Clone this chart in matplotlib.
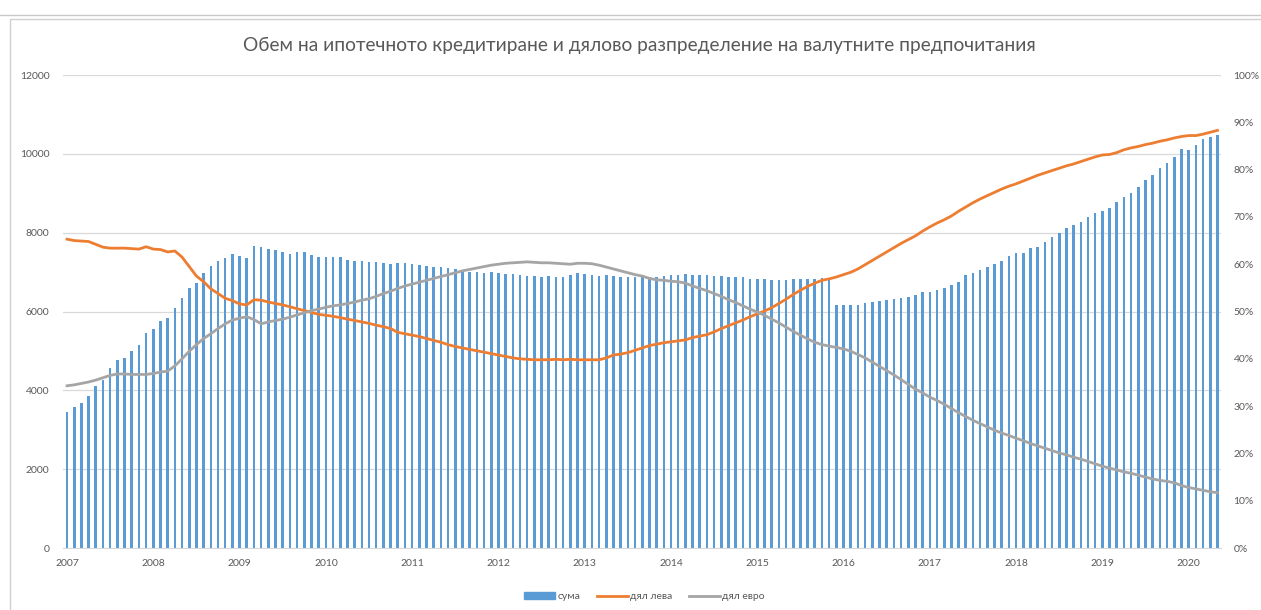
import numpy as np
import matplotlib as mpl
import matplotlib.pyplot as plt
from matplotlib.patches import Patch, Rectangle
from matplotlib.lines import Line2D

mpl.use("Agg")
plt.rcParams['font.family'] = ['Lato', 'DejaVu Sans']

# monthly data, Jan 2007 - May 2020
years = [str(y) for y in range(2007, 2021)]

suma = [3459, 3587, 3690, 3866, 4120, 4264, 4577, 4772, 4814, 5008, 5152, 5465,
        5558, 5770, 5846, 6100, 6337, 6590, 6718, 6971, 7165, 7284, 7368, 7454,
        7411, 7368, 7665, 7631, 7597, 7563, 7521, 7454, 7521, 7521, 7437, 7393,
        7375, 7375, 7375, 7306, 7281, 7281, 7263, 7263, 7221, 7204, 7238, 7238,
        7204, 7179, 7154, 7137, 7120, 7094, 7069, 7035, 7010, 6993, 6984, 6993,
        6968, 6951, 6942, 6925, 6908, 6900, 6882, 6900, 6882, 6882, 6925, 6984,
        6951, 6925, 6900, 6917, 6900, 6882, 6882, 6866, 6882, 6866, 6882, 6900,
        6925, 6917, 6942, 6925, 6925, 6917, 6900, 6900, 6882, 6866, 6866, 6830,
        6815, 6815, 6800, 6800, 6800, 6815, 6815, 6830, 6830, 6845, 6845, 6164,
        6164, 6164, 6164, 6207, 6249, 6266, 6291, 6325, 6333, 6376, 6418, 6485,
        6485, 6545, 6588, 6672, 6756, 6925, 6968, 7052, 7120, 7204, 7288, 7407,
        7475, 7491, 7603, 7644, 7771, 7897, 7999, 8110, 8194, 8279, 8404, 8506,
        8549, 8633, 8785, 8912, 8997, 9166, 9335, 9462, 9631, 9775, 9910, 10113,
        10096, 10223, 10367, 10434, 10477]

dyal_leva = [65.3, 65.0, 64.9, 64.8, 64.2, 63.6, 63.4, 63.4, 63.4, 63.3, 63.2, 63.7,
             63.2, 63.1, 62.6, 62.8, 61.5, 59.5, 57.5, 56.3, 54.8, 53.8, 52.8, 52.3,
             51.6, 51.4, 52.5, 52.4, 52.0, 51.7, 51.4, 51.0, 50.6, 50.2, 49.8, 49.4,
             49.2, 49.0, 48.7, 48.4, 48.1, 47.8, 47.5, 47.1, 46.8, 46.4, 45.6, 45.3,
             45.0, 44.7, 44.3, 43.9, 43.5, 43.0, 42.6, 42.3, 42.0, 41.7, 41.4, 41.1,
             40.8, 40.5, 40.2, 40.0, 39.9, 39.8, 39.8, 39.8, 39.9, 39.8, 39.9, 39.8,
             39.8, 39.8, 39.8, 40.2, 40.8, 41.0, 41.3, 41.8, 42.3, 42.8, 43.1, 43.4,
             43.6, 43.8, 44.0, 44.5, 44.8, 45.1, 45.7, 46.4, 47.0, 47.6, 48.2, 48.9,
             49.5, 50.1, 50.8, 51.7, 52.6, 53.6, 54.5, 55.3, 56.0, 56.6, 56.9, 57.3,
             57.8, 58.3, 59.0, 59.9, 60.8, 61.7, 62.6, 63.5, 64.4, 65.2, 66.0, 67.0,
             67.9, 68.7, 69.4, 70.2, 71.2, 72.1, 73.0, 73.8, 74.5, 75.2, 75.9, 76.5,
             77.0, 77.6, 78.2, 78.8, 79.3, 79.8, 80.3, 80.8, 81.2, 81.7, 82.2, 82.7,
             83.1, 83.2, 83.6, 84.2, 84.6, 84.9, 85.3, 85.6, 86.0, 86.3, 86.7, 87.0,
             87.2, 87.2, 87.5, 87.9, 88.3]

dyal_evro = [34.3, 34.5, 34.8, 35.1, 35.5, 36.0, 36.5, 36.8, 36.8, 36.7, 36.7, 36.7,
             36.9, 37.2, 37.4, 38.5, 40.0, 41.6, 43.0, 44.3, 45.3, 46.4, 47.4, 48.2,
             48.6, 48.9, 48.3, 47.4, 47.8, 48.1, 48.4, 48.8, 49.3, 49.7, 50.2, 50.5,
             50.9, 51.2, 51.4, 51.7, 52.0, 52.4, 52.7, 53.2, 53.8, 54.3, 54.9, 55.4,
             55.8, 56.2, 56.6, 57.0, 57.4, 57.8, 58.2, 58.6, 58.9, 59.2, 59.5, 59.8,
             60.0, 60.2, 60.3, 60.4, 60.5, 60.4, 60.3, 60.3, 60.2, 60.1, 60.0, 60.2,
             60.2, 60.1, 59.8, 59.4, 59.0, 58.6, 58.2, 57.8, 57.5, 57.0, 56.7, 56.6,
             56.4, 56.3, 56.0, 55.4, 54.9, 54.4, 53.8, 53.2, 52.5, 51.9, 51.2, 50.5,
             49.9, 49.2, 48.4, 47.6, 46.7, 45.8, 45.0, 44.2, 43.5, 43.0, 42.7, 42.4,
             42.1, 41.6, 40.9, 40.2, 39.3, 38.4, 37.5, 36.6, 35.6, 34.6, 33.6, 32.8,
             31.9, 31.2, 30.4, 29.5, 28.6, 27.8, 27.0, 26.3, 25.6, 24.9, 24.3, 23.8,
             23.2, 22.7, 22.1, 21.6, 21.1, 20.6, 20.1, 19.7, 19.2, 18.8, 18.3, 17.8,
             17.3, 16.9, 16.5, 16.1, 15.8, 15.4, 15.0, 14.6, 14.3, 14.1, 13.8, 13.2,
             12.8, 12.5, 12.2, 11.9, 11.7]

blue = '#5B9BD5'
orange = '#ED7D31'
gray = '#A5A5A5'
txt = '#595959'

fig = plt.figure(figsize=(12.61, 6.10), dpi=100)
ax = fig.add_axes([0.0503, 0.1016, 0.9180, 0.7754])

xx = np.arange(len(suma))
ax.bar(xx, suma, width=0.36, color=blue, zorder=2)
ax.set_xlim(-0.5, len(suma) - 0.5)
ax.set_ylim(0, 12000)
ax.set_yticks(np.arange(0, 12001, 2000))
ax.set_xticks(np.arange(0, len(suma), 12))
ax.set_xticklabels(years)
ax.grid(axis='y', color='#D9D9D9', linewidth=0.9, zorder=0)
ax.set_axisbelow(True)
for s in ['top', 'right', 'left']:
    ax.spines[s].set_visible(False)
ax.spines['bottom'].set_color('#D9D9D9')
ax.tick_params(axis='both', length=0, labelsize=7.5, colors=txt)
ax.tick_params(axis='y', pad=10)
ax.tick_params(axis='x', pad=8)

ax2 = ax.twinx()
ax2.plot(xx, dyal_leva, color=orange, lw=2.0)
ax2.plot(xx, dyal_evro, color=gray, lw=2.0)
ax2.set_ylim(0, 100)
ax2.set_yticks(np.arange(0, 101, 10))
ax2.set_yticklabels([f"{v}%" for v in range(0, 101, 10)])
for s in ['top', 'right', 'left', 'bottom']:
    ax2.spines[s].set_visible(False)
ax2.tick_params(axis='y', length=0, labelsize=7.5, colors=txt, pad=9)

fig.text(0.507, 0.926, 'Обем на ипотечното кредитиране и дялово разпределение на валутните предпочитания',
         ha='center', va='center', fontsize=13.8, color=txt)

handles = [Patch(color=blue), Line2D([], [], color=orange, lw=2.0), Line2D([], [], color=gray, lw=2.0)]
fig.legend(handles, ['сума', 'дял лева', 'дял евро'], loc='center', bbox_to_anchor=(0.511, 0.022),
           ncol=3, frameon=False, fontsize=7.5, labelcolor=txt, handlelength=3.0,
           handletextpad=0.2, columnspacing=1.6)

# chart frame
fig.add_artist(Rectangle((10 / 1261, -0.05), 1.1, 1 - 19 / 610 + 0.05, transform=fig.transFigure,
                         fill=False, edgecolor='#D0D0D0', lw=1))
fig.add_artist(Line2D([0, 1], [1 - 15 / 610] * 2, transform=fig.transFigure, color='#C8C8C8', lw=1))

plt.savefig('out.png', dpi=100)
